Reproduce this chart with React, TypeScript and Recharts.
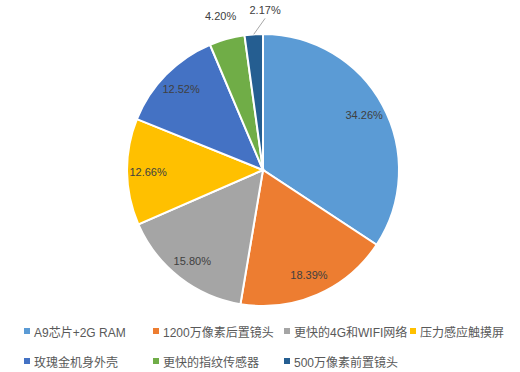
import { PieChart, Pie, Cell, Legend } from 'recharts';

document.body.style.margin = '0';

const names = [
  'A9芯片+2G RAM',
  '1200万像素后置镜头',
  '更快的4G和WIFI网络',
  '压力感应触摸屏',
  '玫瑰金机身外壳',
  '更快的指纹传感器',
  '500万像素前置镜头',
];
const shares = [34.26, 18.39, 15.8, 12.66, 12.52, 4.2, 2.17];
const colors = ['#5B9BD5', '#ED7D31', '#A5A5A5', '#FFC000', '#4472C4', '#70AD47', '#255E91'];

const data = names.map((name, i) => ({ name, value: shares[i] }));

const RAD = Math.PI / 180;
const FONT = '"Liberation Sans", "Noto Sans CJK SC", sans-serif';
const legendCols = [129, 131, 126, 100];

function renderLabel(props: any) {
  const { cx, cy, midAngle, outerRadius, index, value } = props;
  const cos = Math.cos(-midAngle * RAD);
  const sin = Math.sin(-midAngle * RAD);
  const text = `${Number(value).toFixed(2)}%`;
  if (value >= 5) {
    const r = outerRadius * 0.845;
    return (
      <text x={cx + r * cos} y={cy + r * sin} fill="#404040" fontSize={11} fontFamily={FONT}
        textAnchor="middle" dominantBaseline="central">
        {text}
      </text>
    );
  }
  // small slices sit outside; the last one is pushed aside and gets a leader line
  const r = outerRadius + 24;
  const shift = index === data.length - 1 ? 13 : 0;
  const x = cx + r * cos + shift;
  const y = cy + r * sin;
  return (
    <g>
      {shift !== 0 && (
        <line x1={cx + outerRadius * cos} y1={cy + outerRadius * sin} x2={x} y2={y + 8}
          stroke="#A6A6A6" strokeWidth={1} />
      )}
      <text x={x} y={y} fill="#404040" fontSize={11} fontFamily={FONT}
        textAnchor="middle" dominantBaseline="central">
        {text}
      </text>
    </g>
  );
}

function renderLegend() {
  return (
    <div style={{ display: 'flex', flexWrap: 'wrap', paddingLeft: 24, width: 520, boxSizing: 'border-box' }}>
      {names.map((n, i) => (
        <div key={n} style={{ width: legendCols[i % 4], height: 30, display: 'flex', alignItems: 'center' }}>
          <span style={{ width: 6, height: 6, background: colors[i], marginRight: 4, display: 'inline-block', flexShrink: 0 }} />
          <span style={{ fontSize: 12, color: '#595959', fontFamily: FONT, whiteSpace: 'nowrap' }}>{n}</span>
        </div>
      ))}
    </div>
  );
}

export default function App() {
  return (
    <div style={{ width: 520, height: 372, background: '#fff' }}>
      <PieChart width={520} height={372} margin={{ top: 0, right: 0, bottom: 0, left: 0 }}>
        <Pie
          data={data}
          dataKey="value"
          nameKey="name"
          cx={263}
          cy={170}
          outerRadius={136}
          startAngle={90}
          endAngle={-270}
          stroke="#fff"
          strokeWidth={2}
          label={renderLabel}
          labelLine={false}
          isAnimationActive={false}
        >
          {data.map((d, i) => (
            <Cell key={d.name} fill={colors[i]} />
          ))}
        </Pie>
        <Legend content={renderLegend} wrapperStyle={{ position: 'absolute', left: 0, top: 316, width: 520 }} />
      </PieChart>
    </div>
  );
}
